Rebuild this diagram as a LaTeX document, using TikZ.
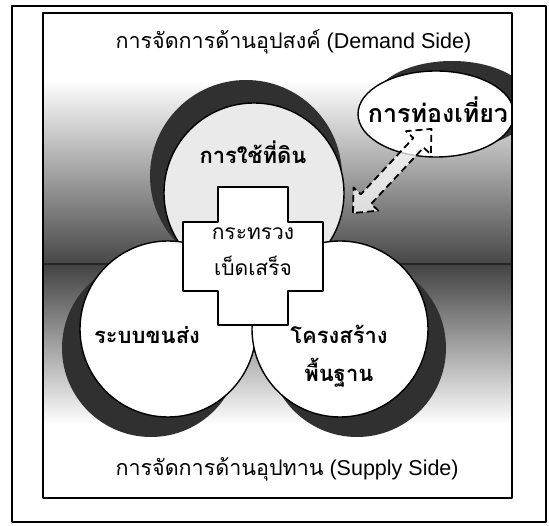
\documentclass[tikz,border=0pt]{standalone}
\usepackage{fontspec}
\setmainfont{Liberation Sans}
\newfontfamily\thai[Script=Thai]{Loma}
\usetikzlibrary{calc}
\definecolor{shadowGray}{RGB}{48,48,48}
\definecolor{paleGray}{RGB}{234,234,234}

\begin{document}
\begin{tikzpicture}[x=1pt, y=-1pt, line join=round,
    disc/.style={draw=black, line width=1.4pt},
    lbl/.style={font=\thai\bfseries\fontsize{22}{38}\selectfont, align=center},
    sidetitle/.style={anchor=west, font=\fontsize{21.5}{26}\selectfont},
    dashline/.style={line width=1.8pt, dash pattern=on 7pt off 4pt}]
    \useasboundingbox (0,0) rectangle (549,526);
    \draw[line width=2.2pt] (12,6) rectangle (546,522);
    \begin{scope}
        \clip (43,13) rectangle (512,498);
        % background bands
        \shade[top color=white, bottom color=black!72] (43,80) rectangle (512,264);
        \shade[top color=black!74, bottom color=white] (43,264) rectangle (512,425);
        \draw[line width=1.8pt, black!85] (43,264) -- (512,264);
        % top disc
        \fill[shadowGray] (246,176) circle[radius=96pt];
        \draw[disc, fill=paleGray] (254,193) circle[radius=90pt];
        % lower discs
        \fill[shadowGray] (151,348) circle[radius=89pt];
        \fill[shadowGray] (357,348) circle[radius=89pt];
        \draw[disc, fill=white] (168,329) circle[radius=88pt];
        \draw[disc, fill=white] (340,329) circle[radius=88pt];
        % cross
        \draw[line width=1.4pt, fill=white] (218,187) -- (288,187) -- (288,222) -- (323,222)
            -- (323,291) -- (288,291) -- (288,325) -- (218,325) -- (218,291) -- (183,291)
            -- (183,222) -- (218,222) -- cycle;
        % tourism bubble
        \fill[shadowGray] (452,105) ellipse[x radius=80pt, y radius=44pt];
        \draw[disc, fill=white] (436,114) ellipse[x radius=78pt, y radius=43pt];
    \end{scope}
    \draw[line width=1.6pt] (43,13) rectangle (512,498);

    % dashed double arrow
    \coordinate (lnkA) at (353,213);
    \coordinate (lnkB) at (431,129);
    \begin{scope}[shift={(lnkA)}, rotate=47]
        \draw[dashline, fill=white, fill opacity=.75] (0,0) -- (19,-17) -- (19,-7) -- (96,-7)
            -- (96,-17) -- (115,0) -- (96,17) -- (96,7) -- (19,7) -- (19,17) -- cycle;
    \end{scope}

    \node[sidetitle] (demand) at (112,42) {{\thai การจัดการด้านอุปสงค์} (Demand Side)};
    \node[sidetitle] (supply) at (112,469) {{\thai การจัดการด้านอุปทาน} (Supply Side)};
    \node[lbl] (landuse) at (253,152) {การใช้ที่ดิน};
    \node[lbl, font=\thai\fontsize{21}{36}\selectfont] (ministry) at (253,252) {กระทรวง\\เบ็ดเสร็จ};
    \node[lbl] (transport) at (147,335) {ระบบขนส่ง};
    \node[lbl] (infra) at (339,356) {โครงสร้าง\\พื้นฐาน};
    \node[lbl, font=\thai\bfseries\fontsize{25}{30}\selectfont] (tourism) at (438,110) {การท่องเที่ยว};
\end{tikzpicture}
\end{document}
